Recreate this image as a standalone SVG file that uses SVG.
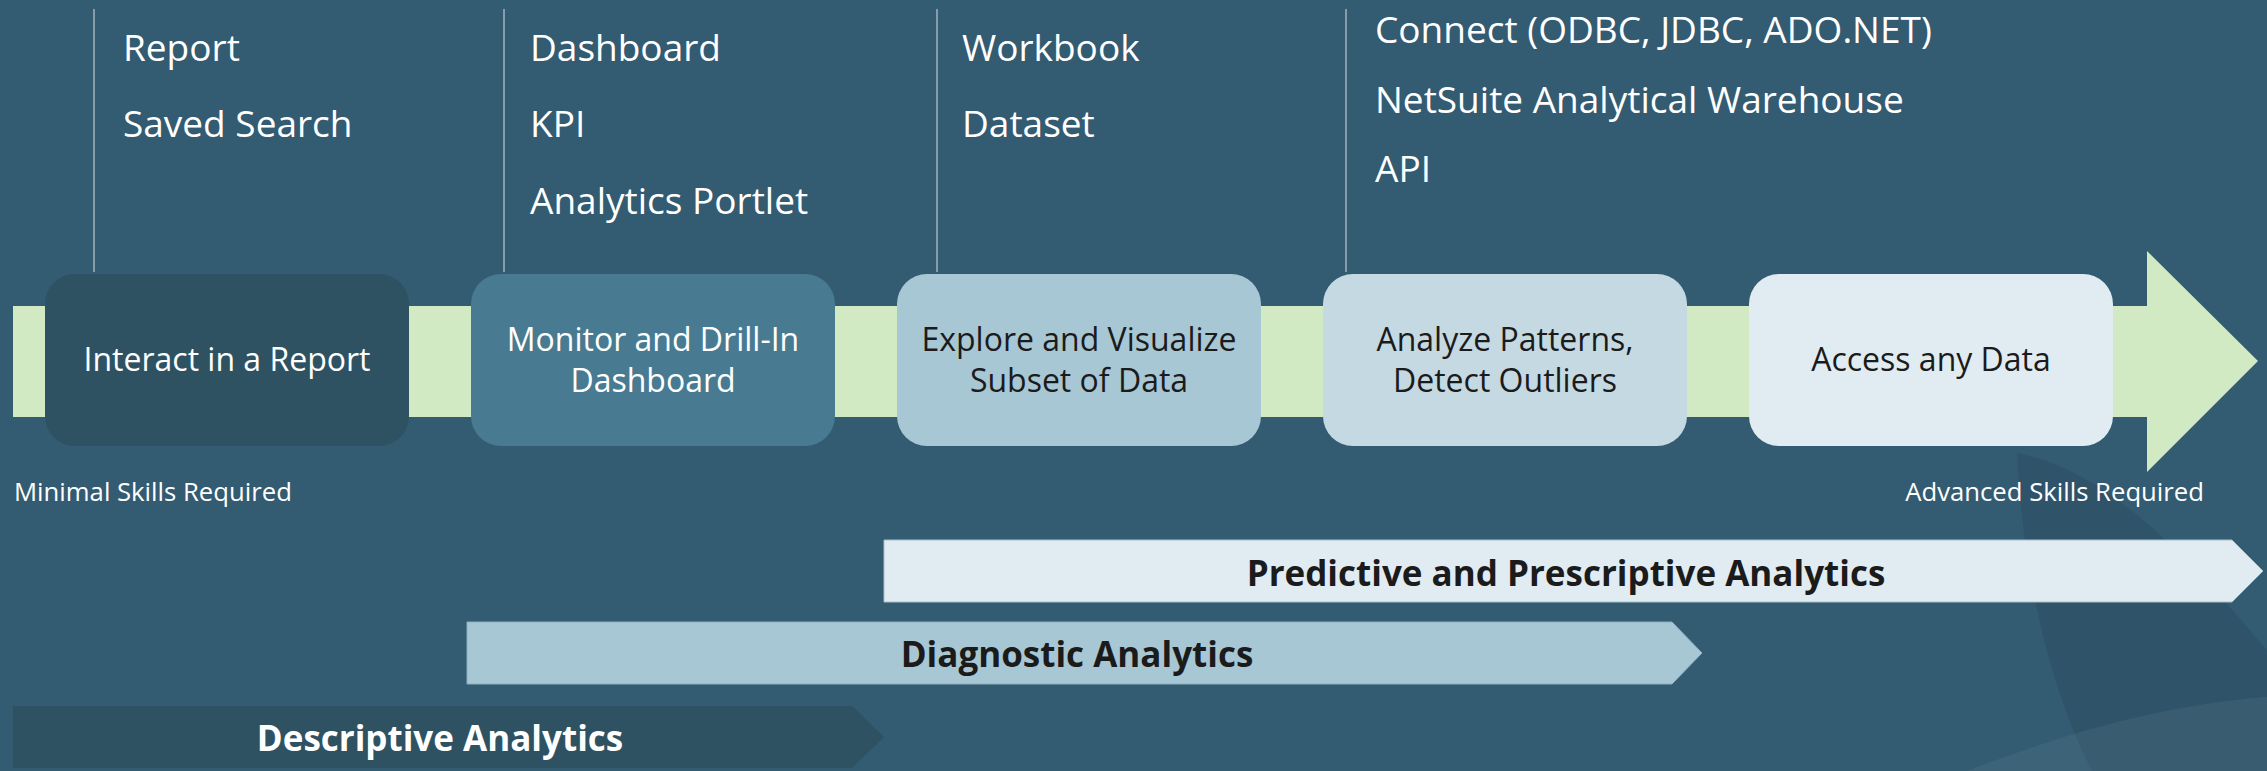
<svg xmlns="http://www.w3.org/2000/svg" width="2267" height="771" viewBox="0 0 2267 771">
  <style>
    .list { font-family: "Open Sans", "Liberation Sans", sans-serif; font-size: 37px; fill: #ffffff; }
    .box { font-family: "Open Sans", "Liberation Sans", sans-serif; font-size: 32px; text-anchor: middle; }
    .skill { font-family: "Open Sans", "Liberation Sans", sans-serif; font-size: 25.7px; fill: #ffffff; }
    .band { font-family: "Open Sans", "Liberation Sans", sans-serif; font-size: 35px; font-weight: bold; text-anchor: middle; }
    .light { fill: #ffffff; }
    .dark { fill: #1b1b1b; }
    .lead { stroke: #a3b3bd; stroke-width: 1.5; fill: none; }
  </style>
  <rect x="0" y="0" width="2267" height="771" fill="#335B71"/>
  <g id="decor">
    <path d="M2017,453 C2110,470 2190,560 2267,650 L2267,771 L2092,771 C2045,680 2022,560 2017,453 Z" fill="#000000" fill-opacity="0.07"/>
    <path d="M1967,771 C2060,735 2160,705 2267,697 L2267,771 Z" fill="#ffffff" fill-opacity="0.05"/>
  </g>
  <g id="timeline-arrow">
    <path d="M13,306 L2147,306 L2147,251 L2258,361 L2147,472 L2147,417 L13,417 Z" fill="#D2EAC4"/>
  </g>
  <g id="connectors">
    <line class="lead" x1="94" y1="9" x2="94" y2="272"/>
    <line class="lead" x1="504" y1="9" x2="504" y2="272"/>
    <line class="lead" x1="937" y1="9" x2="937" y2="272"/>
    <line class="lead" x1="1346" y1="9" x2="1346" y2="272"/>
  </g>
  <g id="list-report">
    <text class="list" x="123" y="61">Report</text>
    <text class="list" x="123" y="137">Saved Search</text>
  </g>
  <g id="list-dashboard">
    <text class="list" x="530" y="61">Dashboard</text>
    <text class="list" x="530" y="137">KPI</text>
    <text class="list" x="530" y="214">Analytics Portlet</text>
  </g>
  <g id="list-workbook">
    <text class="list" x="962" y="61">Workbook</text>
    <text class="list" x="962" y="137">Dataset</text>
  </g>
  <g id="list-connect">
    <text class="list" x="1375" y="43">Connect (ODBC, JDBC, ADO.NET)</text>
    <text class="list" x="1375" y="113">NetSuite Analytical Warehouse</text>
    <text class="list" x="1375" y="182">API</text>
  </g>
  <g id="step-interact">
    <rect x="45" y="274" width="364" height="172" rx="30" fill="#2E5262"/>
    <text class="box light" x="227" y="371">Interact in a Report</text>
  </g>
  <g id="step-monitor">
    <rect x="471" y="274" width="364" height="172" rx="30" fill="#487B91"/>
    <text class="box light" x="653" y="351">Monitor and Drill-In</text>
    <text class="box light" x="653" y="392">Dashboard</text>
  </g>
  <g id="step-explore">
    <rect x="897" y="274" width="364" height="172" rx="30" fill="#A7C7D4"/>
    <text class="box dark" x="1079" y="351">Explore and Visualize</text>
    <text class="box dark" x="1079" y="392">Subset of Data</text>
  </g>
  <g id="step-analyze">
    <rect x="1323" y="274" width="364" height="172" rx="30" fill="#C4D9E2"/>
    <text class="box dark" x="1505" y="351">Analyze Patterns,</text>
    <text class="box dark" x="1505" y="392">Detect Outliers</text>
  </g>
  <g id="step-access">
    <rect x="1749" y="274" width="364" height="172" rx="30" fill="#E0ECF1"/>
    <text class="box dark" x="1931" y="371">Access any Data</text>
  </g>
  <g id="label-minimal">
    <text class="skill" x="14" y="501">Minimal Skills Required</text>
  </g>
  <g id="label-advanced">
    <text class="skill" x="2204" y="501" text-anchor="end">Advanced Skills Required</text>
  </g>
  <g id="band-predictive">
    <path d="M884,540 L2232,540 L2263,571 L2232,602 L884,602 Z" fill="#E0ECF1" stroke="#A9BFCB" stroke-width="1"/>
    <text class="band dark" x="1566" y="586">Predictive and Prescriptive Analytics</text>
  </g>
  <g id="band-diagnostic">
    <path d="M467,622 L1672,622 L1702,653 L1672,684 L467,684 Z" fill="#A7C7D4" stroke="#8EAFBE" stroke-width="1"/>
    <text class="band dark" x="1077" y="667">Diagnostic Analytics</text>
  </g>
  <g id="band-descriptive">
    <path d="M13,706 L852,706 L884,737 L852,768 L13,768 Z" fill="#2E5262"/>
    <text class="band light" x="440" y="751">Descriptive Analytics</text>
  </g>
</svg>
